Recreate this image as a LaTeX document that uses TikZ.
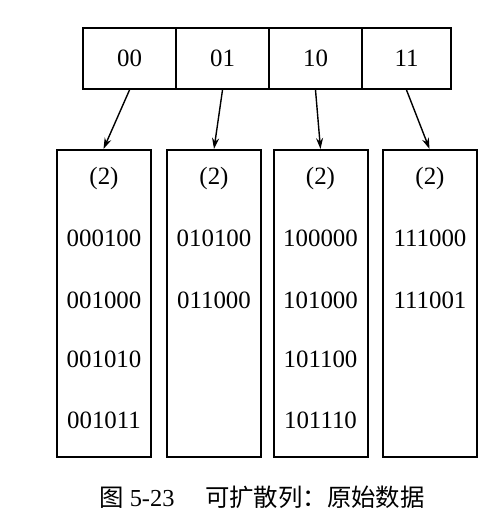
\documentclass[tikz,border=0pt]{standalone}
\usepackage{fontspec}
\setmainfont{Liberation Serif}
\newfontfamily\cjk{Noto Sans CJK SC}
\usepackage{tikz}
\usetikzlibrary{arrows.meta}

\begin{document}
\begin{tikzpicture}[x=1bp,y=-1bp,
  cell/.style={draw,line width=2bp,minimum height=61bp,inner sep=0pt,font=\fontsize{25}{30}\selectfont},
  bucket/.style={draw,line width=2bp,minimum width=94bp,minimum height=307bp,inner sep=0pt},
  entry/.style={inner sep=0pt,font=\fontsize{25}{30}\selectfont},
  ptr/.style={line width=1.4bp,-{Stealth[length=11bp,width=7bp]}}]
\useasboundingbox (0,0) rectangle (501,517);

% directory
\node[cell,minimum width=93bp] (c00) at (129.5,58.5) {00};
\node[cell,minimum width=93bp] (c01) at (222.5,58.5) {01};
\node[cell,minimum width=93bp] (c10) at (315.5,58.5) {10};
\node[cell,minimum width=89bp] (c11) at (406.5,58.5) {11};

% buckets
\node[bucket] (b00) at (103.5,303.5) {};
\node[bucket] (b01) at (214,303.5) {};
\node[bucket] (b10) at (320.5,303.5) {};
\node[bucket] (b11) at (429.5,303.5) {};

\node[entry] (d00) at (104,179) {(2)};
\node[entry] (d01) at (214,179) {(2)};
\node[entry] (d10) at (320.5,179) {(2)};
\node[entry] (d11) at (430,179) {(2)};

\node[entry] (k1) at (104,238) {000100};
\node[entry] (k2) at (104,300) {001000};
\node[entry] (k3) at (104,359) {001010};
\node[entry] (k4) at (104,420) {001011};

\node[entry] (k5) at (214,238) {010100};
\node[entry] (k6) at (214,300) {011000};

\node[entry] (k7) at (320.5,238) {100000};
\node[entry] (k8) at (320.5,300) {101000};
\node[entry] (k9) at (320.5,359) {101100};
\node[entry] (k10) at (320.5,420) {101110};

\node[entry] (k11) at (430,238) {111000};
\node[entry] (k12) at (430,300) {111001};

% pointers
\draw[ptr] (c00.south) -- (b00.north);
\draw[ptr] (c01.south) -- (b01.north);
\draw[ptr] (c10.south) -- (b10.north);
\draw[ptr] (c11.south) -- (b11.north);

\node[inner sep=0pt,font=\fontsize{24.5}{29}\selectfont] (cap) at (262,497)
  {{\cjk 图} 5-23\hspace{1.25em}{\cjk 可扩散列：原始数据}};
\end{tikzpicture}
\end{document}
